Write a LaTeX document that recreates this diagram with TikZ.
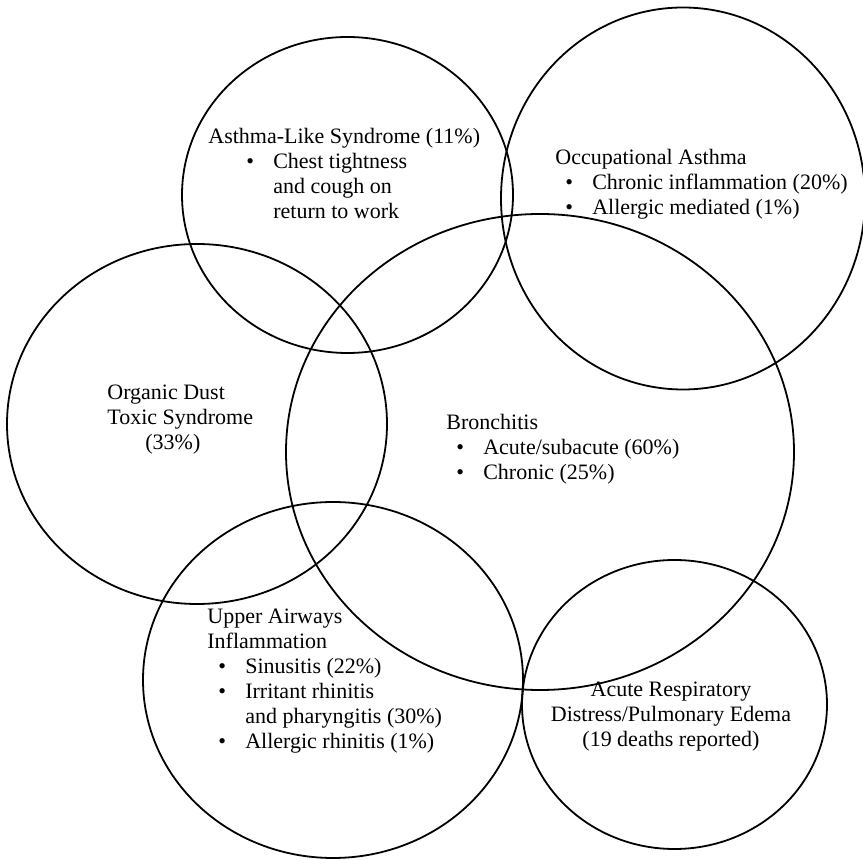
\documentclass[tikz,border=0pt]{standalone}
\usepackage{fontspec}
\setmainfont{Liberation Serif}
\tikzset{ring/.style = {draw = black, line width = 0.9pt},
         lbl/.style = {inner sep = 0pt, anchor = base west, font = \fontsize{11pt}{12.5pt}\selectfont}}
\newcommand{\blist}[1]{\begin{tabular}[t]{@{}l@{\hspace{9.6pt}}l@{}}#1\end{tabular}}
\newcommand{\lines}[1]{\begin{tabular}[t]{@{}l@{}}#1\end{tabular}}
\begin{document}
\begin{tikzpicture}[x=0.5pt, y=-0.5pt]
                        \useasboundingbox (0,0) rectangle (863,860);
                        % the six rings
                        \draw[ring] (347.5,195) ellipse [x radius=165.5, y radius=158];
                        \draw[ring] (683,198.5) ellipse [x radius=182, y radius=191];
                        \draw[ring] (197,424) ellipse [x radius=190, y radius=180];
                        \draw[ring] (540,452) ellipse [x radius=254, y radius=238];
                        \draw[ring] (333,680) ellipse [x radius=190, y radius=178];
                        \draw[ring] (674.5,704.5) ellipse [x radius=152.5, y radius=144.5];
                        % labels
                        \node[lbl] (alsHead) at (208,144) {Asthma-Like Syndrome (11\%)};
                        \node[lbl] (alsList) at (246,169) {\blist{\textbullet & Chest tightness\\ & and cough on\\ & return to work}};
                        \node[lbl] (oaHead) at (555,165) {Occupational Asthma};
                        \node[lbl] (oaList) at (565,190) {\blist{\textbullet & Chronic inflammation (20\%)\\ \textbullet & Allergic mediated (1\%)}};
                        \node[lbl] (odts) at (107,400) {\lines{Organic Dust\\ Toxic Syndrome\\ \hspace*{19pt}(33\%)}};
                        \node[lbl] (brHead) at (446,430) {Bronchitis};
                        \node[lbl] (brList) at (456,455) {\blist{\textbullet & Acute/subacute (60\%)\\ \textbullet & Chronic (25\%)}};
                        \node[lbl] (uaiHead) at (207,624) {\lines{Upper Airways\\ Inflammation}};
                        \node[lbl] (uaiList) at (218,674) {\blist{\textbullet & Sinusitis (22\%)\\ \textbullet & Irritant rhinitis\\ & and pharyngitis (30\%)\\ \textbullet & Allergic rhinitis (1\%)}};
                        \node[lbl, anchor = base] (ards) at (671,697) {\begin{tabular}[t]{@{}c@{}}Acute Respiratory\\ Distress/Pulmonary Edema\\ (19 deaths reported)\end{tabular}};
\end{tikzpicture}
\end{document}
